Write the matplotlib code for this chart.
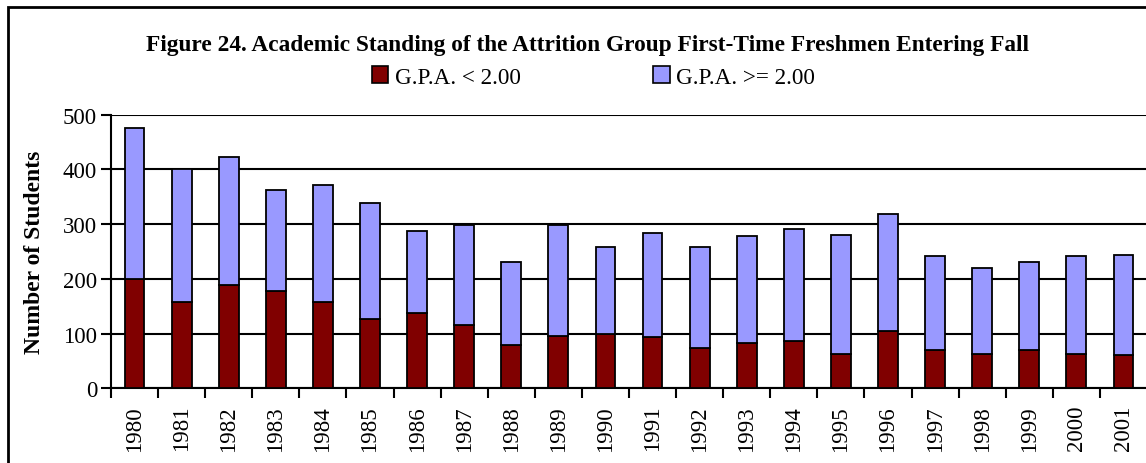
import matplotlib
matplotlib.use("Agg")
import matplotlib.pyplot as plt
from matplotlib.patches import Patch, Rectangle

years = [str(y) for y in range(1980, 2002)]
gpa_low = [200, 158, 188, 177, 157, 127, 137, 116, 80, 96, 99, 94, 74, 83, 86, 63, 104, 70, 63, 70, 63, 60]
total = [476, 400, 422, 362, 372, 338, 288, 299, 231, 299, 258, 284, 258, 278, 291, 281, 318, 241, 220, 231, 241, 244]
gpa_high = [t - l for t, l in zip(total, gpa_low)]

title = "Figure 24. Academic Standing of the Attrition Group First-Time Freshmen Entering Fall"
ylabel = "Number of Students"
labels = ["G.P.A. < 2.00", "G.P.A. >= 2.00"]
colors = ["#800000", "#9999FF"]

plt.rcParams['font.family'] = ['Liberation Serif', 'DejaVu Serif']

W, H = 1146, 464
fig = plt.figure(figsize=(W / 100, H / 100), dpi=100)
ax = fig.add_axes([111 / W, 1 - 389.3 / H, (1147 - 111) / W, (389.3 - 115.7) / H])

x = list(range(len(years)))
ax.bar(x, gpa_low, width=0.42, color=colors[0], edgecolor='black', linewidth=1.3, zorder=3)
ax.bar(x, gpa_high, width=0.42, bottom=gpa_low, color=colors[1], edgecolor='black', linewidth=1.3, zorder=3)

ax.set_xlim(-0.5, len(years) - 0.5)
ax.set_ylim(0, 500)
ax.set_yticks([0, 100, 200, 300, 400, 500])
ax.yaxis.grid(True, color='black', linewidth=1.5, zorder=0)
ax.set_axisbelow(True)
ax.set_xticks([i - 0.5 for i in x])
ax.set_xticks(x, minor=True)
ax.set_xticklabels([])
ax.set_xticklabels(years, minor=True, rotation=90, fontsize=16.5)
ax.tick_params(axis='x', which='minor', length=0, pad=12)
ax.tick_params(axis='x', which='major', length=7, width=1.5, direction='out')
ax.tick_params(axis='y', length=7, width=1.5, direction='out', labelsize=16.5, pad=3)
for s in ['top', 'right']:
    ax.spines[s].set_visible(False)
ax.spines['left'].set_linewidth(1.5)
ax.spines['bottom'].set_linewidth(1.5)

ax.set_ylabel(ylabel, fontsize=17, fontweight='bold')
ax.yaxis.set_label_coords(-66 / (1147 - 111), 0.5)

fig.text(0.5 * (147 + 1029) / W, 1 - 45 / H, title, ha='center', va='center',
         fontsize=16.8, fontweight='bold')

handles = [Patch(facecolor=c, edgecolor='black', linewidth=1.2) for c in colors]
fig.legend(handles, labels, loc='center left', bbox_to_anchor=(372 / W, 1 - 78 / H),
           ncol=2, frameon=False, fontsize=16.7, handlelength=0.7, handleheight=0.7,
           handletextpad=0.3, columnspacing=5.7, borderpad=0, borderaxespad=0)

fig.add_artist(Rectangle((8 / W, -0.1), 1.2, 1 - 7.5 / H + 0.1, transform=fig.transFigure,
                         fill=False, edgecolor='black', linewidth=2))

fig.savefig("out.png", dpi=100)
